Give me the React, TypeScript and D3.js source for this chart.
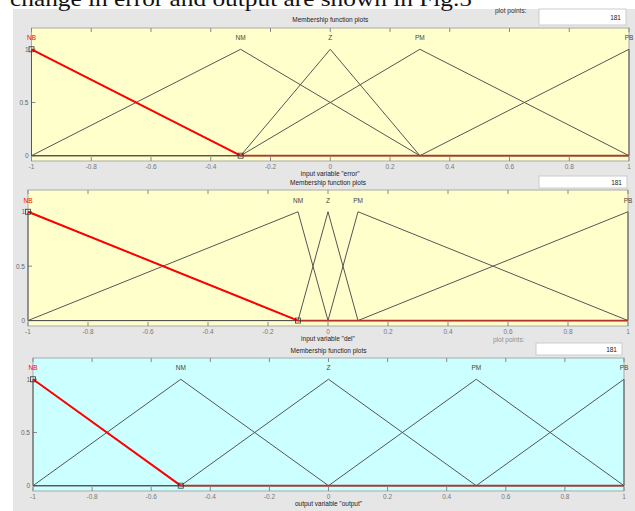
import React from "react";
import * as d3 from "d3";

const xTicks = [-1, -0.8, -0.6, -0.4, -0.2, 0, 0.2, 0.4, 0.6, 0.8, 1];
const yTicks = [0, 0.5, 1];
const mfNames = ["NB", "NM", "Z", "PM", "PB"];
const errorParams = [[-1, -1, -0.3], [-1, -0.3, 0.3], [-0.3, 0, 0.3], [-0.3, 0.3, 1], [0.3, 1, 1]];
const delParams = [[-1, -1, -0.1], [-1, -0.1, 0], [-0.1, 0, 0.1], [0, 0.1, 1], [0.1, 1, 1]];
const outputParams = [[-1, -1, -0.5], [-1, -0.5, 0], [-0.5, 0, 0.5], [0, 0.5, 1], [0.5, 1, 1]];
const plotPoints = "181";

type PanelProps = {
  params: number[][];
  left: number;
  right: number;
  top: number;
  bottom: number;
  bg: string;
  xlabel: string;
  titleY: number;
  xlabelY: number;
  box: { x: number; y: number; w: number; h: number };
  ppLabel?: { x: number; y: number; opacity: number };
};

const FONT = "Liberation Sans, Arial, sans-serif";

function Panel(p: PanelProps) {
  const x = d3.scaleLinear().domain([-1, 1]).range([p.left, p.right]);
  const y = d3.scaleLinear().domain([-0.05, 1.2]).range([p.bottom, p.top]);
  const line = d3
    .line<number[]>()
    .x((d) => x(d[0]))
    .y((d) => y(d[1]));
  const mfPoints = (a: number[]) => {
    const pts: number[][] = [[-1, 0]];
    if (a[0] > -1) pts.push([a[0], 0]);
    pts.push([a[1], 1]);
    if (a[2] < 1) pts.push([a[2], 0]);
    pts.push([1, 0]);
    return pts;
  };
  const sel = p.params[0];
  const cx = (p.left + p.right) / 2;
  return (
    <g>
      <rect x={p.left} y={p.top} width={p.right - p.left} height={p.bottom - p.top} fill={p.bg} stroke="#a9a9a9" strokeWidth={1} />
      {xTicks.map((t, i) => (
        <g key={"xt" + i}>
          <line x1={x(t)} x2={x(t)} y1={p.top} y2={p.top + 4} stroke="#888" />
          <line x1={x(t)} x2={x(t)} y1={p.bottom} y2={p.bottom - 4} stroke="#888" />
          <text x={x(t)} y={p.bottom + 8} fontSize={6.5} fill="#777" textAnchor="middle" fontFamily={FONT}>
            {String(t)}
          </text>
        </g>
      ))}
      {yTicks.map((t, i) => (
        <g key={"yt" + i}>
          <line x1={p.left} x2={p.left + 4} y1={y(t)} y2={y(t)} stroke="#888" />
          <text x={p.left - 3} y={y(t) + 2.5} fontSize={6.5} fill="#666" textAnchor="end" fontFamily={FONT}>
            {String(t)}
          </text>
        </g>
      ))}
      {p.params.map((a, i) => (
        <path key={"mf" + i} d={line(mfPoints(a)) || ""} fill="none" stroke="#555" strokeWidth={1} />
      ))}
      <path d={line([[sel[0], 1], [sel[2], 0]]) || ""} fill="none" stroke="#ff0000" strokeWidth={2} />
      <path d={line([[sel[2], 0], [1, 0]]) || ""} fill="none" stroke="#b8332a" strokeWidth={1.8} />
      <rect x={x(sel[0]) - 2.5} y={y(1) - 2.5} width={5} height={5} fill="none" stroke="#333" strokeWidth={0.8} />
      <rect x={x(sel[2]) - 2.5} y={y(0) - 2.5} width={5} height={5} fill="none" stroke="#333" strokeWidth={0.8} />
      {p.params.map((a, i) => (
        <text key={"lb" + i} x={x(a[1])} y={y(1) - 9} fontSize={6.5} fill={i === 0 ? "#ff0000" : "#444"} textAnchor="middle" fontFamily={FONT}>
          {mfNames[i]}
        </text>
      ))}
      <text x={cx} y={p.xlabelY} fontSize={6.5} fill="#222" textAnchor="middle" fontFamily={FONT}>
        {p.xlabel}
      </text>
      <text x={cx} y={p.titleY} fontSize={6.5} fill="#222" textAnchor="middle" fontFamily={FONT}>
        Membership function plots
      </text>
      <rect x={p.box.x} y={p.box.y} width={p.box.w} height={p.box.h} fill="#fff" stroke="#ccc" />
      <text x={p.box.x + p.box.w - 5} y={p.box.y + p.box.h / 2 + 2.5} fontSize={6.5} fill="#222" textAnchor="end" fontFamily={FONT}>
        {plotPoints}
      </text>
      {p.ppLabel && (
        <text x={p.ppLabel.x} y={p.ppLabel.y} fontSize={6.5} fill="#333" opacity={p.ppLabel.opacity} fontFamily={FONT}>
          plot points:
        </text>
      )}
    </g>
  );
}

export default function App() {
  return (
    <svg width={635} height={511} style={{ position: "absolute", left: 0, top: 0, display: "block" }}>
      <rect x={0} y={0} width={635} height={511} fill="#fff" />
      <rect x={13} y={9} width={622} height={502} fill="#e6e6e6" />
      <text x={10} y={6} fontSize={21} fontFamily="Liberation Serif, Times New Roman, serif" fill="#111" textLength={462} lengthAdjust="spacingAndGlyphs">
        change in error and output are shown in Fig.5
      </text>
      <Panel
        params={errorParams}
        left={31.5}
        right={629}
        top={28}
        bottom={161}
        bg="#ffffcc"
        xlabel={'input variable "error"'}
        titleY={22}
        xlabelY={176}
        box={{ x: 539, y: 9, w: 87, h: 16 }}
        ppLabel={{ x: 495, y: 13, opacity: 1 }}
      />
      <Panel
        params={delParams}
        left={28}
        right={628}
        top={190}
        bottom={326}
        bg="#ffffcc"
        xlabel={'input variable "del"'}
        titleY={185}
        xlabelY={341}
        box={{ x: 539, y: 176, w: 88, h: 12 }}
      />
      <Panel
        params={outputParams}
        left={33}
        right={624}
        top={358}
        bottom={491}
        bg="#ccffff"
        xlabel={'output variable "output"'}
        titleY={353}
        xlabelY={506}
        box={{ x: 536, y: 343, w: 86, h: 12 }}
        ppLabel={{ x: 493, y: 342, opacity: 0.5 }}
      />
    </svg>
  );
}
